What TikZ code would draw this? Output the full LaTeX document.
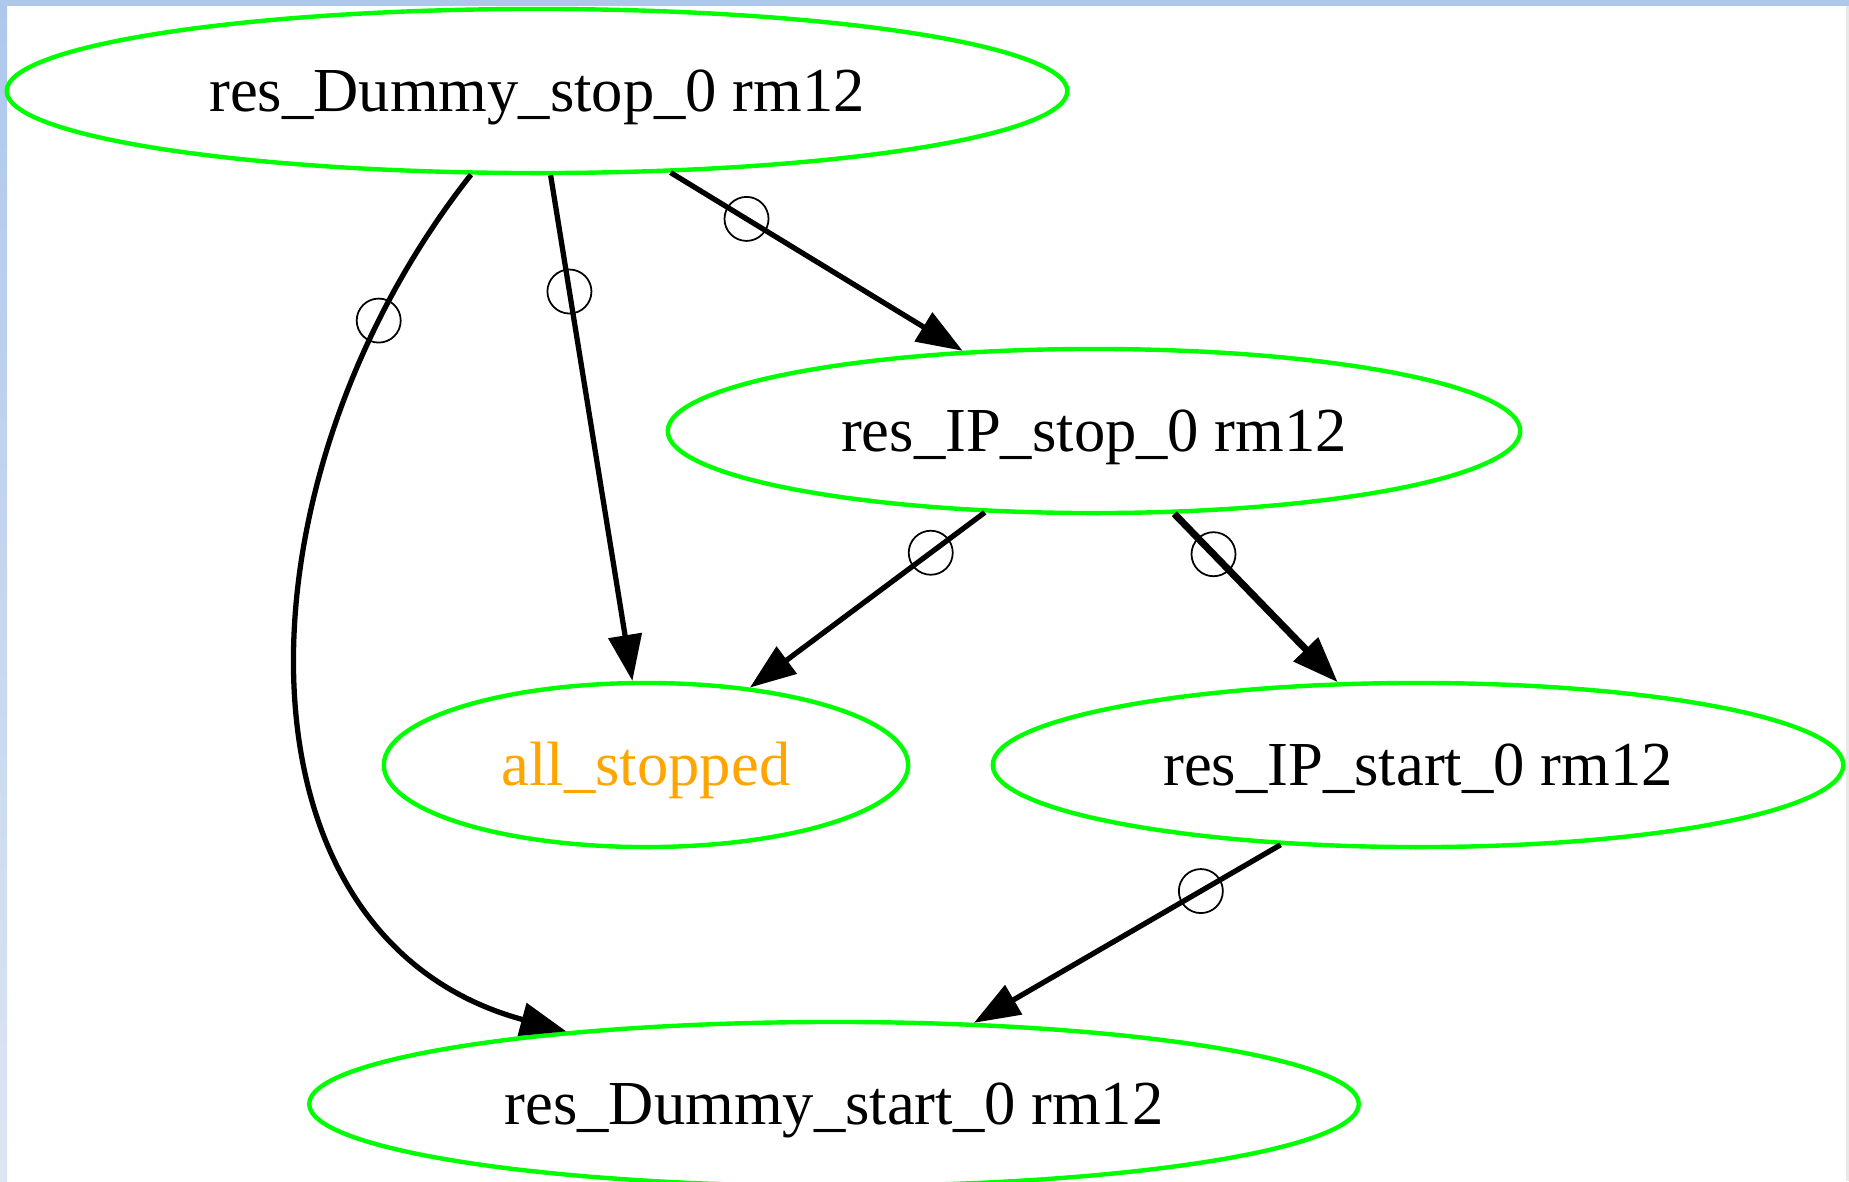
\documentclass[tikz,border=0pt]{standalone}
\usepackage{fontspec}
\setmainfont{Liberation Serif}
\usetikzlibrary{shapes.geometric, arrows.meta}
\definecolor{ActionGreen}{RGB}{0, 255, 0}
\definecolor{PseudoOrange}{RGB}{255, 165, 0}
\definecolor{FrameBlue}{RGB}{174, 200, 236}
\definecolor{FrameBlueLight}{RGB}{221, 229, 241}
\definecolor{FrameGray}{RGB}{232, 232, 232}

\begin{document}
\begin{tikzpicture}[
        x=0.01cm, y=-0.01cm,
        % Base Action Style
        actionStyle/.style={
            ellipse,
            draw=ActionGreen,
            line width=1.25pt,
            inner sep=0pt,
            minimum height=1.64cm,
            text height=0.55cm,
            text depth=0.14cm,
            font=\fontsize{17.8}{20}\selectfont
        },
        pseudoStyle/.style={actionStyle, text=PseudoOrange},
        % Ordering Edges
        orderFlow/.style={-{Triangle[length=4.6mm, width=3.3mm]}, line width=1.5pt, draw=black},
        boldFlow/.style={orderFlow, line width=2pt},
        tailMark/.style={circle, draw=black, line width=0.5pt, inner sep=0pt, minimum size=0.44cm}
    ]

    % --- WINDOW FRAME ---
    \useasboundingbox (0, 0) rectangle (1849, 1181);
    \fill[FrameBlue] (0, 0) rectangle (1849, 6);
    \shade[top color=FrameBlue, bottom color=FrameBlueLight] (0, 6) rectangle (7, 1181);
    \fill[FrameGray] (1846, 6) rectangle (1849, 1181);

    % --- NODES ---
    \node[actionStyle, minimum width=10.6cm]  (dummyStop)  at (537, 91)   {res\_Dummy\_stop\_0 rm12};
    \node[actionStyle, minimum width=8.52cm]  (ipStop)     at (1094, 431) {res\_IP\_stop\_0 rm12};
    \node[pseudoStyle, minimum width=5.24cm]  (allStopped) at (646, 765)  {all\_stopped};
    \node[actionStyle, minimum width=8.5cm]   (ipStart)    at (1418, 765) {res\_IP\_start\_0 rm12};
    \node[actionStyle, minimum width=10.49cm] (dummyStart) at (834, 1104) {res\_Dummy\_start\_0 rm12};

    % --- ORDERING EDGES ---
    % 1. Dummy stop -> IP stop / all_stopped
    \draw[orderFlow] (dummyStop) -- node[tailMark, pos=0.26] {} (ipStop);
    \draw[orderFlow] (dummyStop) -- node[tailMark, pos=0.23] {} (allStopped);

    % 2. Dummy stop -> Dummy start (long way round on the left)
    \draw[orderFlow] (dummyStop) .. controls (230, 480) and (222, 938) .. (dummyStart) node[tailMark, pos=0.15] {};

    % 3. IP stop -> all_stopped / IP start
    \draw[orderFlow] (ipStop) -- node[tailMark, pos=0.23] {} (allStopped);
    \draw[boldFlow] (ipStop) -- node[tailMark, pos=0.24] {} (ipStart);

    % 4. IP start -> Dummy start
    \draw[orderFlow] (ipStart) -- node[tailMark, pos=0.26] {} (dummyStart);

\end{tikzpicture}
\end{document}
